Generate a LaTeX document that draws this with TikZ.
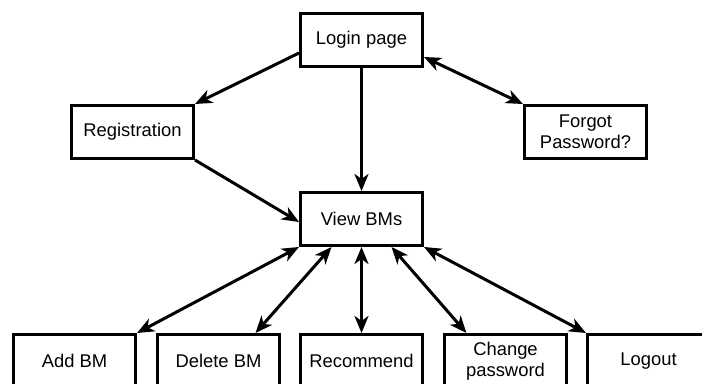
\documentclass[tikz,border=0pt]{standalone}
\usepackage{fontspec}
\setmainfont{Liberation Sans}
\usetikzlibrary{positioning,arrows.meta}

\begin{document}
\begin{tikzpicture}[
    page/.style={draw, line width=1.5pt, minimum width=61pt, minimum height=26.5pt, align=center, font=\fontsize{9.2pt}{10.5pt}\selectfont},
    link/.style={line width=1.5pt, -{Stealth[length=8.5pt, width=7pt, inset=2.5pt]}},
    both/.style={line width=1.5pt, {Stealth[length=8.5pt, width=7pt, inset=2.5pt]}-{Stealth[length=8.5pt, width=7pt, inset=2.5pt]}},
  ]
    \useasboundingbox (0,0) rectangle (351pt,-192pt);

    \node[page] (login) at (180.75pt,-20pt) {Login page};
    \node[page, below left=18pt and 52pt of login] (reg) {Registration};
    \node[page, below right=18pt and 49.5pt of login] (forgot) {Forgot\\Password?};
    \node[page, below=61.5pt of login] (view) {View BMs};

    \node[page, below=43pt of view] (recommend) {Recommend};
    \node[page, left=9pt of recommend] (delete) {Delete BM};
    \node[page, left=9.5pt of delete] (add) {Add BM};
    \node[page, right=9.5pt of recommend] (change) {Change\\password};
    \node[page, right=9pt of change] (logout) {Logout};

    \draw[link] ([yshift=-6.5pt]login.west) -- (reg.north east);
    \draw[both] ([yshift=-8.5pt]login.east) -- (forgot.north west);
    \draw[link] (login.south) -- (view.north);
    \draw[link] (reg.south east) -- ([yshift=-1.5pt]view.west);

    \draw[both] (view.south west) -- (add.north east);
    \draw[both] ([xshift=-15pt]view.south) -- ([xshift=18.5pt]delete.north);
    \draw[both] (view.south) -- (recommend.north);
    \draw[both] ([xshift=15pt]view.south) -- ([xshift=-19.5pt]change.north);
    \draw[both] (view.south east) -- (logout.north west);
  \end{tikzpicture}
\end{document}
